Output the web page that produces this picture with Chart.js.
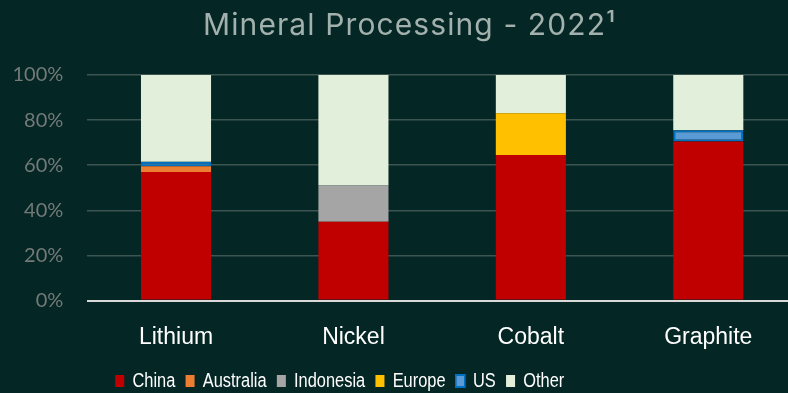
<!DOCTYPE html>
<html>
<head>
<meta charset="utf-8">
<script src="https://cdn.jsdelivr.net/npm/chart.js@4/dist/chart.umd.min.js"></script>
<style>
    html, body { margin: 0; padding: 0; overflow: hidden; background: #042624; }
    #wrap { position: relative; width: 797px; height: 393px; }
</style>
</head>
<body>
<div id="wrap"><canvas id="chart-canvas"></canvas></div>
<script>
// share of processing by region, percent
const categories = ['Lithium', 'Nickel', 'Cobalt', 'Graphite'];
const china = [57, 35, 64.5, 70.5];
const australia = [2.5, null, null, null];
const indonesia = [null, 16, null, null];
const europe = [null, null, 18.5, null];
const us = [2, null, null, 5];
const other = [38.5, 49, 17, 24.5];
const yTicks = [0, 20, 40, 60, 80, 100];

const titleText = 'Mineral Processing - 2022\u00B9';

// legend text is squeezed horizontally to get a narrow face
const legendSqueeze = 0.82;

// draws the title at a fixed spot and places the legend row under the axis labels
const titleAndLegend = {
    id: 'titleAndLegend',
    afterLayout(chart) {
        const legend = chart.legend;
        if (!legend) return;
        legend.left = 105 / legendSqueeze;
        legend.right = 797 / legendSqueeze;
        legend.top = 358.5;
        legend.bottom = 393;
        if (!legend._squeezed) {
            const baseDraw = legend.draw;
            legend.draw = function () {
                const ctx = this.ctx;
                ctx.save();
                ctx.scale(legendSqueeze, 1);
                baseDraw.apply(this, arguments);
                ctx.restore();
            };
            legend._squeezed = true;
        }
    },
    afterDraw(chart) {
        const ctx = chart.ctx;
        ctx.save();
        ctx.font = '30px Inter';
        ctx.letterSpacing = '1.1px';
        ctx.fillStyle = '#a2b1ad';
        ctx.textAlign = 'left';
        ctx.textBaseline = 'alphabetic';
        ctx.fillText(titleText, 203, 35);
        ctx.restore();
    }
};

const bar = (label, data, color, extra) => Object.assign({
    label: label,
    data: data,
    backgroundColor: color,
    borderWidth: 0,
    barPercentage: 0.395,
    categoryPercentage: 1
}, extra || {});

new Chart(document.getElementById('chart-canvas'), {
    type: 'bar',
    data: {
        labels: categories,
        datasets: [
            bar('China', china, '#c00000'),
            bar('Australia', australia, '#ed7d31'),
            bar('Indonesia', indonesia, '#a5a5a5'),
            bar('Europe', europe, '#ffc000'),
            bar('US', us, '#5b9bd5', { borderColor: '#0070c0', borderWidth: 2, borderSkipped: false }),
            bar('Other', other, '#e2efda')
        ]
    },
    options: {
        responsive: true,
        maintainAspectRatio: false,
        animation: false,
        layout: { padding: { top: 75, bottom: -15.7, left: 0, right: 0 } },
        plugins: {
            title: { display: false },
            tooltip: { enabled: false },
            legend: {
                position: 'bottom',
                align: 'start',
                labels: {
                    color: '#ffffff',
                    font: { family: "'Liberation Sans', Arial", size: 20 },
                    boxWidth: 11,
                    boxHeight: 12,
                    padding: 12.5
                }
            }
        },
        scales: {
            x: {
                stacked: true,
                grid: { display: false },
                border: { display: false },
                ticks: {
                    color: '#ffffff',
                    font: { family: "'Liberation Sans', Arial", size: 23 },
                    padding: 15
                }
            },
            y: {
                stacked: true,
                min: yTicks[0],
                max: yTicks[yTicks.length - 1],
                grid: {
                    drawTicks: false,
                    color: ctx => ctx.tick && ctx.tick.value === 0 ? '#d9d9d9' : '#3d5551',
                    lineWidth: ctx => ctx.tick && ctx.tick.value === 0 ? 2 : 1.6
                },
                border: { display: false },
                ticks: {
                    stepSize: yTicks[1] - yTicks[0],
                    color: '#737a78',
                    font: { family: 'Lato', size: 20 },
                    padding: 24,
                    callback: v => v + '%'
                },
                afterFit(scale) { scale.width = 87.3; }
            }
        }
    },
    plugins: [titleAndLegend]
});
</script>
</body>
</html>
